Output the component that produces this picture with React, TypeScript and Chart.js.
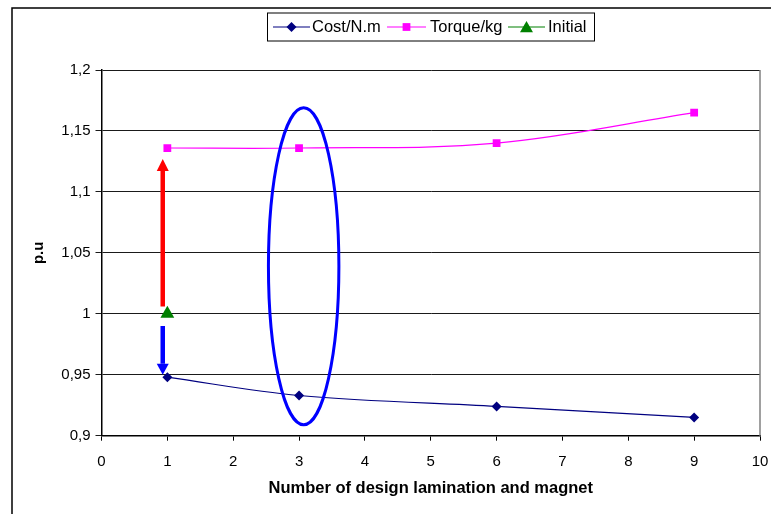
import React, { useEffect, useRef } from "react";
import { Chart, registerables } from "chart.js";

Chart.register(...registerables);

// ---- data ----
const designX = [1, 3, 6, 9];
const costValues = [0.948, 0.933, 0.924, 0.915];
const torqueValues = [1.136, 1.136, 1.14, 1.165];
const initialX = [1];
const initialValues = [1.0];

const seriesLabels = ["Cost/N.m", "Torque/kg", "Initial"];
const seriesColors = ["#000080", "#FF00FF", "#008000"];

const xTicks = [0, 1, 2, 3, 4, 5, 6, 7, 8, 9, 10];
const yTicks = [0.9, 0.95, 1, 1.05, 1.1, 1.15, 1.2];

// annotation values (data units)
const arrowX = 0.93;
const redArrow = [1.006, 1.127]; // from, to
const blueArrow = [0.99, 0.95]; // from, to
const ellipseCenter = [3.07, 1.039];
const ellipseRadii = [0.535, 0.13];

const FONT = "'Liberation Sans', Arial, sans-serif";

function fmt(v: number) {
  const r = Math.round(v * 100) / 100;
  return String(r).replace(".", ",");
}

function drawMarker(ctx: CanvasRenderingContext2D, style: string, x: number, y: number, r: number, color: string) {
  ctx.save();
  ctx.fillStyle = color;
  ctx.beginPath();
  if (style === "rectRot") {
    ctx.moveTo(x - r, y);
    ctx.lineTo(x, y - r);
    ctx.lineTo(x + r, y);
    ctx.lineTo(x, y + r);
  } else if (style === "rect") {
    const s = Math.SQRT1_2 * r;
    ctx.rect(x - s, y - s, 2 * s, 2 * s);
  } else {
    const h = (Math.sqrt(3) / 2) * r;
    ctx.moveTo(x, y - r);
    ctx.lineTo(x + h, y + r / 2);
    ctx.lineTo(x - h, y + r / 2);
  }
  ctx.closePath();
  ctx.fill();
  ctx.restore();
}

const annotationPlugin = {
  id: "annot",
  afterDatasetsDraw(chart: any) {
    const { ctx, scales } = chart;
    const xs = scales.x;
    const ys = scales.y;
    const drawArrow = (vals: number[], color: string, headLen: number, headW: number, shaftW: number) => {
      const px = xs.getPixelForValue(arrowX);
      const y0 = ys.getPixelForValue(vals[0]);
      const y1 = ys.getPixelForValue(vals[1]);
      const dir = y1 < y0 ? -1 : 1;
      ctx.save();
      ctx.strokeStyle = color;
      ctx.fillStyle = color;
      ctx.lineWidth = shaftW;
      ctx.beginPath();
      ctx.moveTo(px, y0);
      ctx.lineTo(px, y1 - dir * headLen);
      ctx.stroke();
      ctx.beginPath();
      ctx.moveTo(px, y1);
      ctx.lineTo(px - headW / 2, y1 - dir * headLen);
      ctx.lineTo(px + headW / 2, y1 - dir * headLen);
      ctx.closePath();
      ctx.fill();
      ctx.restore();
    };
    drawArrow(redArrow, "#FF0000", 12, 12, 4.5);
    drawArrow(blueArrow, "#0000FF", 11, 12, 4.5);

    // ellipse
    const cx = xs.getPixelForValue(ellipseCenter[0]);
    const cy = ys.getPixelForValue(ellipseCenter[1]);
    const rx = Math.abs(xs.getPixelForValue(ellipseCenter[0] + ellipseRadii[0]) - cx);
    const ry = Math.abs(ys.getPixelForValue(ellipseCenter[1] + ellipseRadii[1]) - cy);
    ctx.save();
    ctx.strokeStyle = "#0000FF";
    ctx.lineWidth = 3;
    ctx.beginPath();
    ctx.ellipse(cx, cy, rx, ry, 0, 0, Math.PI * 2);
    ctx.stroke();
    ctx.restore();
  },
  afterDraw(chart: any) {
    const { ctx, chartArea } = chart;
    ctx.save();
    // right plot border
    ctx.strokeStyle = "#808080";
    ctx.lineWidth = 1.5;
    ctx.beginPath();
    ctx.moveTo(chartArea.right, chartArea.top);
    ctx.lineTo(chartArea.right, chartArea.bottom);
    ctx.stroke();
    // outer frame
    ctx.strokeStyle = "#000";
    ctx.lineWidth = 1.5;
    ctx.beginPath();
    ctx.moveTo(12, 520);
    ctx.lineTo(12, 8);
    ctx.lineTo(780, 8);
    ctx.stroke();

    // legend
    const lx = 267.5, ly = 13, lw = 327, lh = 28;
    ctx.fillStyle = "#fff";
    ctx.fillRect(lx, ly, lw, lh);
    ctx.strokeStyle = "#000";
    ctx.lineWidth = 1;
    ctx.strokeRect(lx, ly, lw, lh);
    const cy = ly + lh / 2;
    const items = [
      { x0: 273, x1: 310, tx: 312, style: "rectRot", r: 5 },
      { x0: 387, x1: 426, tx: 430, style: "rect", r: 5.5 },
      { x0: 508, x1: 545, tx: 548, style: "triangle", r: 7.5 },
    ];
    items.forEach((it, i) => {
      ctx.strokeStyle = seriesColors[i];
      ctx.lineWidth = 1.2;
      ctx.beginPath();
      ctx.moveTo(it.x0, cy);
      ctx.lineTo(it.x1, cy);
      ctx.stroke();
      const mx = (it.x0 + it.x1) / 2;
      const my = it.style === "triangle" ? cy + 1.5 : cy;
      drawMarker(ctx, it.style, mx, my, it.r, seriesColors[i]);
      ctx.fillStyle = "#000";
      ctx.font = `16.5px ${FONT}`;
      ctx.textBaseline = "middle";
      ctx.textAlign = "left";
      ctx.fillText(seriesLabels[i], it.tx, cy + 0.5);
    });
    ctx.restore();
  },
};

export default function App() {
  const ref = useRef<HTMLCanvasElement>(null);
  useEffect(() => {
    if (!ref.current) return;
    const chart = new Chart(ref.current, {
      type: "line",
      data: {
        datasets: [
          {
            label: seriesLabels[0],
            data: designX.map((x, i) => ({ x, y: costValues[i] })),
            borderColor: seriesColors[0],
            backgroundColor: seriesColors[0],
            borderWidth: 1.2,
            pointStyle: "rectRot",
            pointRadius: 5,
            pointBorderWidth: 0,
            tension: 0.35,
          },
          {
            label: seriesLabels[1],
            data: designX.map((x, i) => ({ x, y: torqueValues[i] })),
            borderColor: seriesColors[1],
            backgroundColor: seriesColors[1],
            borderWidth: 1.2,
            pointStyle: "rect",
            pointRadius: 5.5,
            pointBorderWidth: 0,
            tension: 0.35,
          },
          {
            label: seriesLabels[2],
            data: initialX.map((x, i) => ({ x, y: initialValues[i] })),
            borderColor: seriesColors[2],
            backgroundColor: seriesColors[2],
            borderWidth: 1.5,
            pointStyle: "triangle",
            pointRadius: 8,
            pointBorderWidth: 0,
            showLine: false,
          },
        ],
      },
      options: {
        animation: false,
        responsive: true,
        maintainAspectRatio: false,
        layout: { padding: { top: 70, right: 11, left: 0, bottom: 0 } },
        plugins: { legend: { display: false }, tooltip: { enabled: false } },
        scales: {
          x: {
            type: "linear",
            min: xTicks[0],
            max: xTicks[xTicks.length - 1],
            afterBuildTicks: (s: any) => {
              s.ticks = xTicks.map((v) => ({ value: v }));
            },
            afterFit: (s: any) => {
              s.height = 78.3;
              s.paddingLeft = 0;
              s.paddingRight = 0;
            },
            grid: { drawOnChartArea: false, drawTicks: true, tickLength: 5, color: "#000", lineWidth: 1 },
            border: { display: true, color: "#000", width: 1.5 },
            ticks: {
              autoSkip: false,
              maxRotation: 0,
              padding: 12,
              color: "#000",
              font: { family: FONT, size: 15 },
              callback: (v: any) => fmt(Number(v)),
            },
            title: {
              display: true,
              text: "Number of design lamination and magnet",
              color: "#000",
              font: { family: FONT, size: 16.5, weight: "bold" },
              padding: { top: 0, bottom: 16 },
            },
          },
          y: {
            type: "linear",
            min: yTicks[0],
            max: yTicks[yTicks.length - 1],
            afterBuildTicks: (s: any) => {
              s.ticks = yTicks.map((v) => ({ value: v }));
            },
            afterFit: (s: any) => {
              s.width = 101.5;
            },
            grid: { drawOnChartArea: true, drawTicks: true, tickLength: 6, color: "#1a1a1a", lineWidth: 1 },
            border: { display: true, color: "#000", width: 1.5 },
            ticks: {
              padding: 5,
              color: "#000",
              font: { family: FONT, size: 15 },
              callback: (v: any) => fmt(Number(v)),
            },
            title: {
              display: true,
              text: "p.u",
              color: "#000",
              font: { family: FONT, size: 15, weight: "bold" },
              padding: { top: 30, bottom: 0 },
            },
          },
        },
      },
      plugins: [annotationPlugin],
    });
    return () => chart.destroy();
  }, []);
  return (
    <div style={{ position: "fixed", left: 0, top: 0, width: 771, height: 514, background: "#fff" }}>
      <canvas ref={ref} />
    </div>
  );
}
